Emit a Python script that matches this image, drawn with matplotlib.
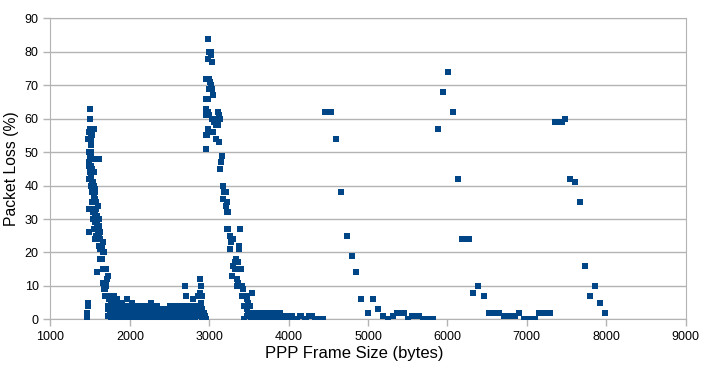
import matplotlib
matplotlib.use("Agg")
import matplotlib.pyplot as plt

# first loss peak around the 1500-byte boundary
peak1_x = [1455, 1458, 1460, 1462, 1465, 1470, 1472, 1481, 1494, 1494, 1478, 1490, 1500, 1515, 1530,
           1545, 1505, 1520, 1490, 1505, 1500, 1515, 1530, 1488, 1490, 1495, 1488, 1500, 1505, 1510,
           1535, 1550, 1488, 1500, 1505, 1525, 1545, 1560, 1520, 1545, 1565, 1525, 1550, 1570, 1535,
           1555, 1570, 1540, 1555, 1570, 1550, 1570, 1590, 1610, 1555, 1575, 1595, 1610, 1610, 1630,
           1650, 1660, 1620, 1630, 1650, 1665, 1680, 1608, 1587, 1660, 1680, 1700, 1665, 1680, 1695,
           1710, 1725, 1700, 1670, 1685, 1690, 1730, 1760, 1800, 1740, 1770, 1790, 1730, 1760, 1790,
           1810, 1840, 1770, 1790, 1810, 1835, 1510, 1505, 1512, 1520, 1530, 1540, 1555, 1565, 1580,
           1590, 1600, 1610, 1620, 1630]
peak1_y = [1, 0, 2, 1, 0, 4, 5, 26, 63, 60, 54, 56, 57, 57, 57, 57, 55, 55, 50, 50, 49, 49, 48, 47,
           46, 44, 42, 42, 44, 43, 44, 44, 33, 33, 40, 41, 40, 39, 38, 37, 38, 35, 35, 35, 32, 32, 33,
           30, 29, 30, 27, 27, 28, 28, 24, 25, 26, 25, 22, 22, 22, 23, 21, 18, 18, 20, 20, 48, 14, 15,
           15, 15, 11, 10, 11, 12, 13, 10, 9, 9, 7, 7, 7, 7, 6, 7, 6, 4, 5, 4, 5, 5, 2, 1, 3, 3, 54,
           52, 46, 45, 41, 38, 36, 31, 29, 31, 34, 30, 26, 24]

# low-loss floor between the two peaks
floor1_x = [1720, 1730, 1740, 1750, 1760, 1770, 1780, 1790, 1800, 1810, 1820, 1830, 1840, 1850, 1860,
            1870, 1880, 1890, 1900, 1910, 1920, 1930, 1940, 1950, 1960, 1970, 1980, 1990, 2000, 2010,
            2020, 2030, 2040, 2050, 2060, 2070, 2080, 2090, 2100, 2110, 2120, 2130, 2140, 2150, 2160,
            2170, 2180, 2190, 2200, 2210, 2220, 2230, 2240, 2250, 2260, 2270, 2280, 2290, 2300, 2310,
            2320, 2330, 2340, 2350, 2360, 2370, 2380, 2390, 2400, 2410, 2420, 2430, 2440, 2450, 2460,
            2470, 2480, 2490, 2500, 2510, 2520, 2530, 2540, 2550, 2560, 2570, 2580, 2590, 2600, 2610,
            2620, 2630, 2640, 2650, 2660, 2670, 2680, 2690, 2700, 2705, 2710, 2720, 2730, 2740, 2750,
            2760, 2770, 2780, 2790, 2800, 2810, 2820, 2830, 2840, 2850, 2860, 2870, 2880, 2885, 2890,
            2900, 2905, 2910, 2920, 2930, 2940, 2950, 2955]
floor1_y = [3, 1, 4, 2, 5, 1, 3, 0, 2, 4, 1, 3, 6, 2, 0, 4, 1, 3, 5, 0, 2, 4, 1, 3, 0, 6, 2, 1, 4, 0,
            3, 5, 1, 2, 0, 3, 1, 4, 0, 2, 1, 3, 0, 4, 1, 2, 0, 3, 1, 4, 0, 2, 1, 3, 0, 5, 2, 1, 3, 0,
            2, 1, 4, 0, 2, 1, 3, 0, 2, 1, 3, 0, 1, 2, 0, 3, 1, 0, 2, 4, 1, 0, 3, 1, 2, 0, 4, 1, 2, 0,
            3, 1, 4, 0, 2, 1, 3, 0, 10, 7, 2, 4, 1, 3, 0, 2, 4, 1, 6, 3, 0, 2, 4, 1, 3, 7, 2, 12, 8,
            5, 10, 7, 3, 1, 2, 0, 1, 0]
floor2_x = [1745, 1765, 1785, 1805, 1825, 1845, 1865, 1885, 1905, 1925, 1945, 1965, 1985, 2005, 2025,
            2045, 2065, 2085, 2105, 2125, 2145, 2165, 2185, 2205, 2225, 2245, 2265, 2285, 2305, 2325,
            2345, 2365, 2385, 2405, 2425, 2445, 2465, 2485, 2505, 2525, 2545, 2565, 2585, 2605, 2625,
            2645, 2665, 2685, 2725, 2745, 2765, 2785, 2805, 2825, 2845, 2865, 2895, 2915, 2935, 2945]
floor2_y = [1, 0, 2, 0, 3, 1, 2, 0, 1, 3, 0, 2, 1, 0, 2, 1, 0, 2, 1, 0, 2, 3, 1, 0, 2, 0, 1, 4, 0, 1,
            2, 0, 1, 0, 2, 1, 0, 1, 0, 2, 0, 1, 0, 1, 2, 1, 0, 2, 0, 1, 2, 0, 1, 0, 2, 4, 1, 0, 2, 1]

# second loss peak near 3000 bytes and its decay
peak2_x = [2988, 3001, 3022, 3022, 2988, 3030, 2958, 3001, 3013, 3022, 3001, 3035, 2958, 2988, 3047,
           2958, 2980, 2958, 3001, 3030, 3064, 3064, 3085, 3106, 3127, 3106, 3136, 2958, 2967, 2980,
           3052, 3085, 3127, 2963, 3115, 3122, 3156, 3143, 3131, 3177, 3181, 3206, 3177, 3219, 3215,
           3219, 3240, 3240, 3219, 3391, 3261, 3303, 3274, 3261, 3374, 3374, 3332, 3366, 3324, 3303,
           3324, 3399, 3290, 3353, 3357, 3345, 3416, 3428, 3534, 3407, 3458, 3470, 3441, 3491, 3512,
           3470, 3491, 3470, 3554, 3440, 3500, 3520]
peak2_y = [84, 80, 80, 79, 78, 77, 72, 72, 71, 70, 69, 69, 66, 66, 67, 63, 62, 61, 61, 60, 60, 59, 58,
           59, 61, 62, 60, 55, 55, 57, 56, 54, 53, 51, 58, 53, 49, 47, 45, 40, 38, 38, 36, 35, 34, 32,
           32, 27, 27, 27, 25, 24, 23, 21, 22, 21, 18, 17, 17, 16, 15, 15, 13, 12, 11, 10, 10, 9, 8,
           7, 7, 6, 4, 5, 4, 3, 2, 1, 2, 0, 1, 0]

# tail after the second peak
floor3_x = [3540, 3560, 3575, 3590, 3605, 3620, 3635, 3650, 3665, 3680, 3695, 3710, 3725, 3740, 3755,
            3770, 3785, 3800, 3815, 3830, 3845, 3855, 3875, 3890, 3905, 3920, 3935, 3950, 3965, 3980,
            3995, 4010, 4040, 4070, 4100, 4143, 4158, 4206, 4220, 4260, 4291, 4332, 4345, 4395, 4429]
floor3_y = [1, 0, 2, 1, 0, 2, 1, 0, 2, 1, 0, 2, 1, 0, 2, 1, 0, 2, 1, 0, 2, 2, 0, 2, 1, 0, 1, 0, 1, 0,
            1, 0, 1, 0, 0, 1, 1, 0, 0, 1, 1, 0, 0, 0, 0]

# sparse points at larger frame sizes
tail_x = [4460, 4500, 4540, 4596, 4659, 4730, 4795, 4855, 4915, 4996, 5058, 5121, 5188, 5250, 5313,
          5367, 5410, 5450, 5500, 5555, 5597, 5638, 5692, 5755, 5817, 5880, 5945, 6008, 6071, 6134,
          6180, 6230, 6275, 6326, 6389, 6455, 6521, 6584, 6651, 6714, 6760, 6805, 6848, 6903, 6962,
          7010, 7055, 7100, 7155, 7226, 7289, 7350, 7395, 7440, 7483, 7546, 7609, 7672, 7735, 7798,
          7861, 7928, 7991]
tail_y = [62, 62, 62, 54, 38, 25, 19, 14, 6, 2, 6, 3, 1, 0, 1, 2, 2, 2, 0, 1, 1, 1, 0, 0, 0, 57, 68,
          74, 62, 42, 24, 24, 24, 8, 10, 7, 2, 2, 2, 1, 1, 1, 1, 2, 0, 0, 0, 0, 2, 2, 2, 59, 59, 59,
          60, 42, 41, 35, 16, 7, 10, 5, 2]

x = peak1_x + floor1_x + floor2_x + peak2_x + floor3_x + tail_x
y = peak1_y + floor1_y + floor2_y + peak2_y + floor3_y + tail_y

plt.rcParams['font.family'] = ['Liberation Sans', 'DejaVu Sans']
grid_c = '#b3b3b3'

fig = plt.figure(figsize=(7.06, 3.69), dpi=100)
ax = fig.add_axes([0.0715, 0.1347, 0.8995, 0.8153])
ax.plot(x, y, 's', color='#004586', markersize=4.2, markeredgewidth=0, zorder=3)

ax.set_xlim(1000, 9000)
ax.set_ylim(0, 90)
ax.set_xticks(range(1000, 9001, 1000))
ax.set_yticks(range(0, 91, 10))
ax.yaxis.grid(True, color=grid_c, lw=1)
ax.set_axisbelow(True)
for s in ax.spines.values():
    s.set_color(grid_c)
ax.tick_params(colors=grid_c, labelcolor='#000000', labelsize=9, length=5, width=1)
ax.set_xlabel('PPP Frame Size (bytes)', fontsize=12, labelpad=3)
ax.xaxis.set_label_coords(0.479, -0.09)
ax.set_ylabel('Packet Loss (%)', fontsize=11.3, labelpad=4)

fig.savefig('out.png', dpi=100)
